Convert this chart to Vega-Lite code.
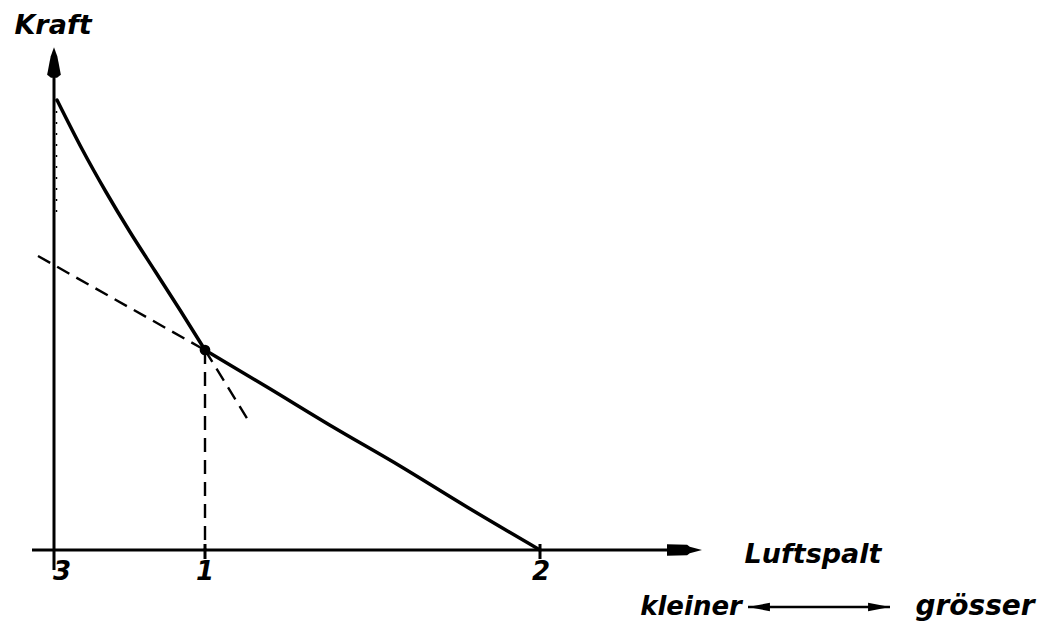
{
  "$schema": "https://vega.github.io/schema/vega-lite/v6.json",
  "width": 1057,
  "height": 633,
  "autosize": {"type": "fit", "contains": "padding"},
  "padding": 0,
  "background": "white",
  "config": {"view": {"stroke": null}, "axis": {"disable": true}},
  "datasets": {
    "curve": [
      {"seg": "steil", "x": 0.03, "y": 4.50},
      {"seg": "steil", "x": 0.28, "y": 4.01},
      {"seg": "steil", "x": 0.52, "y": 3.58},
      {"seg": "steil", "x": 0.76, "y": 3.18},
      {"seg": "steil", "x": 1.01, "y": 2.79},
      {"seg": "steil", "x": 1.26, "y": 2.40},
      {"seg": "steil", "x": 1.51, "y": 2.00},
      {"seg": "flach", "x": 1.51, "y": 2.00},
      {"seg": "flach", "x": 2.13, "y": 1.63},
      {"seg": "flach", "x": 2.79, "y": 1.23},
      {"seg": "flach", "x": 3.46, "y": 0.84},
      {"seg": "flach", "x": 4.13, "y": 0.43},
      {"seg": "flach", "x": 4.86, "y": 0.00}
    ],
    "axes": [
      {"x": 0, "y": -0.2, "x2": 0, "y2": 4.75},
      {"x": -0.22, "y": 0, "x2": 6.2, "y2": 0},
      {"x": 1.51, "y": -0.09, "x2": 1.51, "y2": 0.06},
      {"x": 4.86, "y": -0.09, "x2": 4.86, "y2": 0.06}
    ],
    "dashed": [
      {"x": -0.16, "y": 2.94, "x2": 1.49, "y2": 2.01},
      {"x": 1.51, "y": 2.00, "x2": 1.94, "y2": 1.30},
      {"x": 1.51, "y": 2.00, "x2": 1.51, "y2": 0.0}
    ],
    "dotted": [
      {"x": 0.025, "y": 4.5, "x2": 0.025, "y2": 3.3}
    ],
    "dir": [
      {"x": 6.94, "y": -0.57, "x2": 8.36, "y2": -0.57}
    ],
    "upArrow": [{"x": 0, "y": 4.875}],
    "rightArrow": [{"x": 6.305, "y": 0}],
    "smallLeft": [{"x": 7.05, "y": -0.57}],
    "smallRight": [{"x": 8.25, "y": -0.57}],
    "dot": [{"x": 1.51, "y": 2.0}],
    "ticklabels": [
      {"label": "3", "x": 0.08, "y": -0.22},
      {"label": "1", "x": 1.51, "y": -0.22},
      {"label": "2", "x": 4.87, "y": -0.22}
    ],
    "titles": [
      {"label": "Kraft", "x": -0.01, "y": 5.24},
      {"label": "Luftspalt", "x": 7.59, "y": -0.05}
    ],
    "kleiner": [
      {"label": "kleiner", "x": 6.37, "y": -0.57}
    ],
    "groesser": [
      {"label": "grösser", "x": 9.21, "y": -0.57}
    ]
  },
  "layer": [
    {
      "data": {"name": "axes"},
      "mark": {"type": "rule", "color": "black", "strokeWidth": 3},
      "encoding": {
        "x": {"field": "x", "type": "quantitative", "scale": {"domain": [-0.54, 10.03], "nice": false, "zero": false}},
        "y": {"field": "y", "type": "quantitative", "scale": {"domain": [-0.83, 5.50], "nice": false, "zero": false}},
        "x2": {"field": "x2"},
        "y2": {"field": "y2"}
      }
    },
    {
      "data": {"name": "dashed"},
      "mark": {"type": "rule", "color": "black", "strokeWidth": 2.4, "strokeDash": [14, 8]},
      "encoding": {
        "x": {"field": "x", "type": "quantitative", "scale": {"domain": [-0.54, 10.03], "nice": false, "zero": false}},
        "y": {"field": "y", "type": "quantitative", "scale": {"domain": [-0.83, 5.50], "nice": false, "zero": false}},
        "x2": {"field": "x2"},
        "y2": {"field": "y2"}
      }
    },
    {
      "data": {"name": "dotted"},
      "mark": {"type": "rule", "color": "black", "strokeWidth": 1.5, "strokeDash": [2, 9]},
      "encoding": {
        "x": {"field": "x", "type": "quantitative", "scale": {"domain": [-0.54, 10.03], "nice": false, "zero": false}},
        "y": {"field": "y", "type": "quantitative", "scale": {"domain": [-0.83, 5.50], "nice": false, "zero": false}},
        "x2": {"field": "x2"},
        "y2": {"field": "y2"}
      }
    },
    {
      "data": {"name": "dir"},
      "mark": {"type": "rule", "color": "black", "strokeWidth": 2.5},
      "encoding": {
        "x": {"field": "x", "type": "quantitative", "scale": {"domain": [-0.54, 10.03], "nice": false, "zero": false}},
        "y": {"field": "y", "type": "quantitative", "scale": {"domain": [-0.83, 5.50], "nice": false, "zero": false}},
        "x2": {"field": "x2"},
        "y2": {"field": "y2"}
      }
    },
    {
      "data": {"name": "curve"},
      "mark": {"type": "line", "color": "black", "strokeWidth": 3.5, "interpolate": "monotone", "strokeCap": "round"},
      "encoding": {
        "x": {"field": "x", "type": "quantitative", "scale": {"domain": [-0.54, 10.03], "nice": false, "zero": false}},
        "y": {"field": "y", "type": "quantitative", "scale": {"domain": [-0.83, 5.50], "nice": false, "zero": false}},
        "detail": {"field": "seg"},
        "order": {"field": "x"}
      }
    },
    {
      "data": {"name": "upArrow"},
      "mark": {"type": "point", "filled": true, "color": "black", "opacity": 1, "size": 930, "shape": "M0,-1L0.22,-0.4L0.45,0.8L0.2,1L-0.2,1L-0.45,0.8L-0.22,-0.4Z"},
      "encoding": {
        "x": {"field": "x", "type": "quantitative", "scale": {"domain": [-0.54, 10.03], "nice": false, "zero": false}},
        "y": {"field": "y", "type": "quantitative", "scale": {"domain": [-0.83, 5.50], "nice": false, "zero": false}}
      }
    },
    {
      "data": {"name": "rightArrow"},
      "mark": {"type": "point", "filled": true, "color": "black", "opacity": 1, "size": 1225, "shape": "M1,0L0.3,-0.18L0.15,-0.3L-1,-0.33L-1,0.33L0.15,0.3L0.3,0.18Z"},
      "encoding": {
        "x": {"field": "x", "type": "quantitative", "scale": {"domain": [-0.54, 10.03], "nice": false, "zero": false}},
        "y": {"field": "y", "type": "quantitative", "scale": {"domain": [-0.83, 5.50], "nice": false, "zero": false}}
      }
    },
    {
      "data": {"name": "smallLeft"},
      "mark": {"type": "point", "filled": true, "color": "black", "opacity": 1, "size": 480, "shape": "M-1,0L1,-0.38L1,0.38Z"},
      "encoding": {
        "x": {"field": "x", "type": "quantitative", "scale": {"domain": [-0.54, 10.03], "nice": false, "zero": false}},
        "y": {"field": "y", "type": "quantitative", "scale": {"domain": [-0.83, 5.50], "nice": false, "zero": false}}
      }
    },
    {
      "data": {"name": "smallRight"},
      "mark": {"type": "point", "filled": true, "color": "black", "opacity": 1, "size": 480, "shape": "M1,0L-1,-0.38L-1,0.38Z"},
      "encoding": {
        "x": {"field": "x", "type": "quantitative", "scale": {"domain": [-0.54, 10.03], "nice": false, "zero": false}},
        "y": {"field": "y", "type": "quantitative", "scale": {"domain": [-0.83, 5.50], "nice": false, "zero": false}}
      }
    },
    {
      "data": {"name": "dot"},
      "mark": {"type": "point", "filled": true, "color": "black", "opacity": 1, "size": 115, "shape": "circle"},
      "encoding": {
        "x": {"field": "x", "type": "quantitative", "scale": {"domain": [-0.54, 10.03], "nice": false, "zero": false}},
        "y": {"field": "y", "type": "quantitative", "scale": {"domain": [-0.83, 5.50], "nice": false, "zero": false}}
      }
    },
    {
      "data": {"name": "ticklabels"},
      "mark": {"type": "text", "color": "black", "font": "DejaVu Sans", "fontStyle": "italic", "fontWeight": "bold", "fontSize": 26, "align": "center", "baseline": "middle"},
      "encoding": {
        "x": {"field": "x", "type": "quantitative", "scale": {"domain": [-0.54, 10.03], "nice": false, "zero": false}},
        "y": {"field": "y", "type": "quantitative", "scale": {"domain": [-0.83, 5.50], "nice": false, "zero": false}},
        "text": {"field": "label"}
      }
    },
    {
      "data": {"name": "titles"},
      "mark": {"type": "text", "color": "black", "font": "DejaVu Sans", "fontStyle": "italic", "fontWeight": "bold", "fontSize": 27, "align": "center", "baseline": "middle"},
      "encoding": {
        "x": {"field": "x", "type": "quantitative", "scale": {"domain": [-0.54, 10.03], "nice": false, "zero": false}},
        "y": {"field": "y", "type": "quantitative", "scale": {"domain": [-0.83, 5.50], "nice": false, "zero": false}},
        "text": {"field": "label"}
      }
    },
    {
      "data": {"name": "kleiner"},
      "mark": {"type": "text", "color": "black", "font": "DejaVu Sans", "fontStyle": "italic", "fontWeight": "bold", "fontSize": 26, "align": "center", "baseline": "middle"},
      "encoding": {
        "x": {"field": "x", "type": "quantitative", "scale": {"domain": [-0.54, 10.03], "nice": false, "zero": false}},
        "y": {"field": "y", "type": "quantitative", "scale": {"domain": [-0.83, 5.50], "nice": false, "zero": false}},
        "text": {"field": "label"}
      }
    },
    {
      "data": {"name": "groesser"},
      "mark": {"type": "text", "color": "black", "font": "DejaVu Sans", "fontStyle": "italic", "fontWeight": "bold", "fontSize": 28, "align": "center", "baseline": "middle"},
      "encoding": {
        "x": {"field": "x", "type": "quantitative", "scale": {"domain": [-0.54, 10.03], "nice": false, "zero": false}},
        "y": {"field": "y", "type": "quantitative", "scale": {"domain": [-0.83, 5.50], "nice": false, "zero": false}},
        "text": {"field": "label"}
      }
    }
  ]
}
